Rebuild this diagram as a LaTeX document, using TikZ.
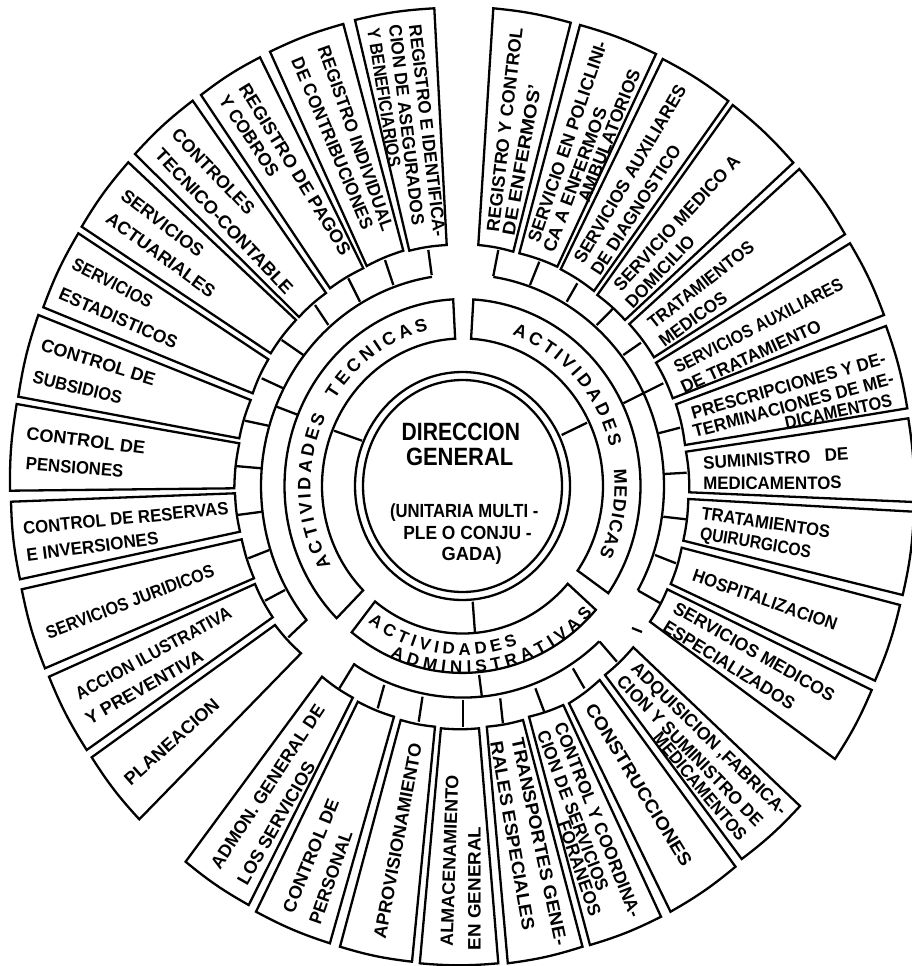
\documentclass[tikz,border=0pt]{standalone}
\usepackage{fontspec}
\usepackage{graphicx}
\usetikzlibrary{decorations.text}
\setmainfont{Liberation Sans}[UprightFont=* Bold]
\newlength\tlw
\newcounter{tlc}
\newcounter{bxc}
\newcounter{stc}
\newcommand\tl[6][18]{%
  \stepcounter{tlc}%
  \pgfmathsetmacro\tlang{atan2(-(#5-#3),#4-#2)}%
  \pgfmathsetmacro\tllen{veclen(#4-#2,#5-#3)}%
  \pgfmathsetmacro\tlmx{(#2+#4)/2}%
  \pgfmathsetmacro\tlmy{(#3+#5)/2}%
  \node[lbl,rotate=\tlang] (t\arabic{tlc}) at (\tlmx,\tlmy)
    {\settowidth\tlw{\fontsize{#1}{#1}\selectfont #6}%
     \pgfmathsetmacro\tlxs{\tllen/\tlw}%
     \fontsize{#1}{#1}\selectfont\scalebox{\tlxs}[1]{#6}};%
}
\newcommand\bx[8]{%
  \stepcounter{bxc}%
  \coordinate (b\arabic{bxc}A) at (#1,#2);%
  \coordinate (b\arabic{bxc}B) at (#3,#4);%
  \coordinate (b\arabic{bxc}C) at (#5,#6);%
  \coordinate (b\arabic{bxc}D) at (#7,#8);%
  \draw[ln] (b\arabic{bxc}A) to[bend left=5] (b\arabic{bxc}B) -- (b\arabic{bxc}C)
     to[bend right=5] (b\arabic{bxc}D) -- cycle;%
}
\newcommand\stb[4]{%
  \stepcounter{stc}%
  \coordinate (s\arabic{stc}a) at (#1,#2);%
  \coordinate (s\arabic{stc}b) at (#3,#4);%
  \draw[ln] (s\arabic{stc}a) -- (s\arabic{stc}b);%
}
\newcommand\rarc[3]{%
  \draw[ln] plot[domain=#2:#3,samples=90] ({462.5+#1*cos(\x)},{486-1.05*#1*sin(\x)});%
}
\newcommand\band[2]{%
  \draw[ln] plot[domain=#1:#2,samples=90] ({462.5+178*cos(\x)},{486-1.05*178*sin(\x)})
    -- plot[domain=#2:#1,samples=90] ({462.5+140.5*cos(\x)},{486-1.05*140.5*sin(\x)}) -- cycle;%
}
\newcommand\arctext[5][18]{%
  \path[decorate,decoration={text along path,text align={fit to path},
     text={|\fontsize{#1}{#1}\selectfont|#5}}]
    plot[domain=#3:#4,samples=60] ({462.5+#2*cos(\x)},{486-1.05*#2*sin(\x)});%
}
\tikzset{
  ln/.style={line width=2.3pt,black,line join=miter},
  lbl/.style={inner sep=0pt,outer sep=0pt,black,anchor=center},
}
\begin{document}
\begin{tikzpicture}[x=1pt,y=-1pt]
\fill[white] (0,0) rectangle (912,966);
\clip (0,0) rectangle (912,966);
% centre
\coordinate (c) at (462.5,486);
\draw[ln] (c) ellipse [x radius=107.5,y radius=114];
\draw[ln] (c) ellipse [x radius=99.5,y radius=106];
% activity bands
\band{86.5}{-35}
\band{93}{225}
\band{231.5}{318.5}
% spokes from the double circle
\stb{561.7}{435}{587}{422.7}
\stb{362}{440.7}{334}{430.7}
\stb{472.7}{601.7}{475}{633}
% outer rings
\rarc{201.5}{81.2}{-29.6}
\rarc{201.5}{98.7}{219.3}
\rarc{201.5}{237.4}{312.8}
% spokes ring to band
\stb{623.3}{403.3}{663.3}{383.3}
\stb{276.7}{406.7}{298.3}{415}
\stb{479.1}{675}{481.8}{696}
% stubs right
\stb{493.3}{276}{498.3}{250}
\stb{530}{285}{539.3}{261.7}
\stb{566.7}{301.7}{577.3}{283.3}
\stb{596.7}{325}{613.3}{308.3}
\stb{623.3}{355}{641}{342.7}
\stb{658.3}{433.3}{680}{427.7}
\stb{664}{474}{686.7}{472.7}
\stb{663.3}{516.7}{686}{519.3}
\stb{655}{555}{676}{563.3}
\stb{638.3}{590.7}{660}{603}
% stubs left
\stb{431.7}{275}{428.3}{250}
\stb{393.3}{285}{385}{260}
\stb{360}{301.7}{348.3}{278.3}
\stb{328.3}{325}{315}{305}
\stb{303.3}{355}{281.7}{340}
\stb{283.3}{388.3}{261.7}{378.3}
\stb{268.3}{425.7}{245}{420.7}
\stb{261.7}{468.3}{235}{466}
\stb{262.3}{511.7}{237.3}{515}
\stb{269.3}{550}{248.3}{558.3}
\stb{285}{590}{265}{600.7}
\stb{307.3}{619.3}{288.3}{637.3}
% stubs bottom
\stb{354.7}{663.3}{339.4}{688.3}
\stb{384.2}{685}{377.7}{708.3}
\stb{422.5}{696.7}{418.7}{721.7}
\stb{462.7}{700}{462.7}{726.7}
\stb{500.2}{698.3}{502.9}{723.3}
\stb{535.4}{688.3}{544.2}{711.7}
\stb{572.9}{668.3}{584.4}{688.3}
\stb{599.7}{641.7}{616.9}{661.7}
% speck
\stb{632}{628}{642}{632}
% boxes, right
\bx{493.3}{8.3}{570.7}{22.7}{513.3}{251.7}{478.3}{245}
\bx{580}{25}{656}{54}{557.3}{266.7}{519.3}{253.3}
\bx{662.7}{59}{728.3}{101}{594}{291}{560.7}{269.3}
\bx{732.7}{105}{793.3}{162.7}{625}{320}{597.3}{295}
\bx{799.3}{169}{845}{234.3}{654}{357.3}{629.3}{324}
\bx{850}{243.3}{884}{315}{672.7}{398.3}{656}{362.7}
\bx{886}{326}{907.3}{408.3}{685}{445}{676}{404.3}
\bx{908.3}{418.3}{914}{502}{689.3}{492.3}{686}{451.7}
\bx{914}{511.7}{902.7}{595}{683.3}{540.7}{688.3}{499}
\bx{900}{605}{875}{680.7}{670.7}{584}{681.7}{547.7}
\bx{871.7}{690}{835}{759}{650}{621.7}{667.3}{589.3}
% boxes, bottom
\bx{800}{806}{741.7}{859}{605}{675}{633.3}{647.3}
\bx{735.5}{866.7}{670.5}{911.7}{569}{703.3}{599.7}{680}
\bx{661}{916.7}{590}{945}{529}{716.7}{563.3}{705}
\bx{582.5}{946.7}{507.8}{963.3}{486.8}{726.7}{523}{720}
\bx{498.3}{963.3}{419.8}{963.3}{440.9}{728.3}{479}{728.3}
\bx{412}{961.7}{340}{946.7}{400.7}{720}{435}{726.7}
\bx{329.9}{943.3}{256}{911.7}{357.8}{701.7}{394}{716.7}
\bx{248.7}{905}{185.6}{861.7}{322}{676.7}{352.8}{697.7}
% boxes, left
\bx{139.3}{819.3}{91.7}{757.3}{275}{625}{301}{653.3}
\bx{86.7}{750}{49}{676.7}{255}{584}{272.7}{617.3}
\bx{45}{668.3}{21.7}{589.3}{241.7}{539.3}{254}{578.3}
\bx{20}{579.3}{11}{501.7}{235}{493.3}{240}{531.7}
\bx{10}{490.7}{16.7}{404}{239.3}{443.3}{234.3}{488.3}
\bx{18.3}{396.7}{38.3}{315}{250.7}{400}{239.3}{438.3}
\bx{43.3}{307.3}{78.3}{233.3}{268.3}{359.3}{252.7}{393.3}
\bx{81.7}{226.7}{128.3}{162.3}{296}{320}{270.7}{353.3}
\bx{135}{154}{192.7}{100.7}{326}{293}{299}{317}
\bx{201}{95}{260}{57.3}{363.3}{268.3}{330}{288.3}
\bx{270}{51.7}{343.3}{24}{403.3}{250.7}{366.7}{266}
\bx{355}{20}{434.3}{8.3}{446.7}{245}{409.3}{250.7}
% centre labels
\tl[25]{401.7}{431.7}{520}{431.7}{DIRECCION}
\tl[25]{406}{457}{513.3}{457}{GENERAL}
\tl[19]{390}{512.7}{538.3}{512.7}{(UNITARIA MULTI -}
\tl[19]{403.3}{533.3}{531.7}{533.3}{PLE O CONJU -}
\tl[19]{441.7}{556}{501.7}{556}{GADA)}
% arc labels
\arctext{152}{71}{14}{ACTIVIDADES}
\arctext{152}{6}{-26}{MEDICAS}
\arctext{152}{210}{154}{ACTIVIDADES}
\arctext{152}{147}{103}{TECNICAS}
\arctext[17]{161}{234}{290}{ACTIVIDADES}
\arctext[17]{178}{246}{317}{ADMINISTRATIVAS}
% right labels
\tl{492.7}{231.7}{516.7}{28.3}{REGISTRO Y CONTROL}
\tl{508.3}{235}{535}{85}{DE ENFERMOS'}
\tl{533.3}{241.7}{601.7}{41.7}{SERVICIO EN POLICLINI-}
\tl{548.3}{251.7}{601.7}{108.3}{CA A ENFERMOS}
\tl{583.3}{201.7}{635}{70}{AMBULATORIOS}
\tl{578.3}{261.7}{681.7}{86.7}{SERVICIOS AUXILIARES}
\tl{595}{273.3}{676.7}{146.7}{DE DIAGNOSTICO}
\tl{616.7}{288.3}{736.7}{158.3}{SERVICIO MEDICO A}
\tl{628.3}{305}{691.7}{238.3}{DOMICILIO}
\tl{650}{325}{751.7}{245}{TRATAMIENTOS}
\tl{661}{343}{725}{296}{MEDICOS}
\tl{675}{368.3}{841.7}{283.3}{SERVICIOS AUXILIARES}
\tl{681.7}{388.3}{820}{325}{DE TRATAMIENTO}
\tl{691.7}{413.3}{885}{358.3}{PRESCRIPCIONES Y DE-}
\tl{693.3}{431.7}{893.3}{378.3}{TERMINACIONES DE ME-}
\tl{785}{423.3}{891.7}{400}{DICAMENTOS}
\tl{703.3}{463.3}{848.3}{454}{SUMINISTRO\ \ \ DE}
\tl{703.3}{483.3}{841.7}{482.7}{MEDICAMENTOS}
\tl{701.7}{513.3}{830}{531.7}{TRATAMIENTOS}
\tl{700}{535}{810.7}{553.3}{QUIRURGICOS}
\tl{693.3}{575}{836.7}{625}{HOSPITALIZACION}
\tl{675}{606.7}{833.3}{696.7}{SERVICIOS MEDICOS}
\tl{665}{625}{793.3}{705}{ESPECIALIZADOS}
% bottom labels
\tl{633.3}{666.7}{783.3}{813.3}{ADQUISICION ,FABRICA-}
\tl{620}{678.3}{760}{823.3}{CION Y SUMINISTRO DE}
\tl{656.7}{735}{743.3}{838.3}{MEDICAMENTOS}
\tl{590}{705}{687.7}{865}{CONSTRUCCIONES}
\tl{559.5}{723.3}{636}{916.7}{CONTROL Y COORDINA-}
\tl{542.3}{731.7}{603.5}{890}{CION DE SERVICIOS}
\tl{563.3}{821.7}{595.8}{915}{FORANEOS}
\tl{517.4}{738.3}{561.4}{945}{TRANSPORTES GENE-}
\tl{496.3}{741.7}{528.9}{930}{RALES ESPECIALES}
\tl{446.6}{946.7}{452.3}{775}{ALMACENAMIENTO}
\tl{474.5}{950}{474.5}{826.7}{EN GENERAL}
\tl{379.6}{938.3}{416}{743.3}{APROVISIONAMIENTO}
\tl{287.8}{911.7}{333.7}{800}{CONTROL DE}
\tl{314.6}{923.3}{347}{831.7}{PERSONAL}
\tl{215}{866.7}{320.3}{706.7}{ADMON. GENERAL DE}
\tl{241.8}{883.3}{310.7}{763.3}{LOS SERVICIOS}
% left labels
\tl{126.7}{781.7}{216.7}{701.7}{PLANEACION}
\tl{76.7}{695}{230}{611.7}{ACCION ILUSTRATIVA}
\tl{86.7}{720}{201.7}{655}{Y PREVENTIVA}
\tl{46.7}{633.3}{213.3}{570}{SERVICIOS JURIDICOS}
\tl{23.3}{528.3}{228.3}{508.3}{CONTROL DE RESERVAS}
\tl{26.7}{555}{158.3}{538.3}{E INVERSIONES}
\tl{26.7}{433.3}{145}{448.3}{CONTROL DE}
\tl{26}{463.3}{123.3}{471.7}{PENSIONES}
\tl{41.7}{345}{155}{380}{CONTROL DE}
\tl{33.3}{376.7}{121.7}{398.3}{SUBSIDIOS}
\tl{73.3}{263.3}{151.7}{303.3}{SERVICIOS}
\tl{60}{293.3}{176.7}{343.3}{ESTADISTICOS}
\tl{123.3}{193.3}{201.7}{253.3}{SERVICIOS}
\tl{108.3}{216.7}{213.3}{293.3}{ACTUARIALES}
\tl{175}{131.7}{251.7}{211.7}{CONTROLES}
\tl{158.3}{151.7}{290}{291.7}{TECNICO-CONTABLE}
\tl{243.3}{85}{346.7}{253.3}{REGISTRO DE PAGOS}
\tl{223.3}{96.7}{275}{175}{Y COBROS}
\tl{323.3}{46.7}{388.3}{230}{REGISTRO INDIVIDUAL}
\tl{296.7}{58.3}{368.3}{228.3}{DE CONTRIBUCIONES}
\tl{415}{25}{440}{236.7}{REGISTRO E IDENTIFICA-}
\tl{395}{25}{418.3}{225}{CION DE ASEGURADOS}
\tl{373.3}{28.3}{395}{166.7}{Y BENEFICIARIOS}
\end{tikzpicture}
\end{document}
